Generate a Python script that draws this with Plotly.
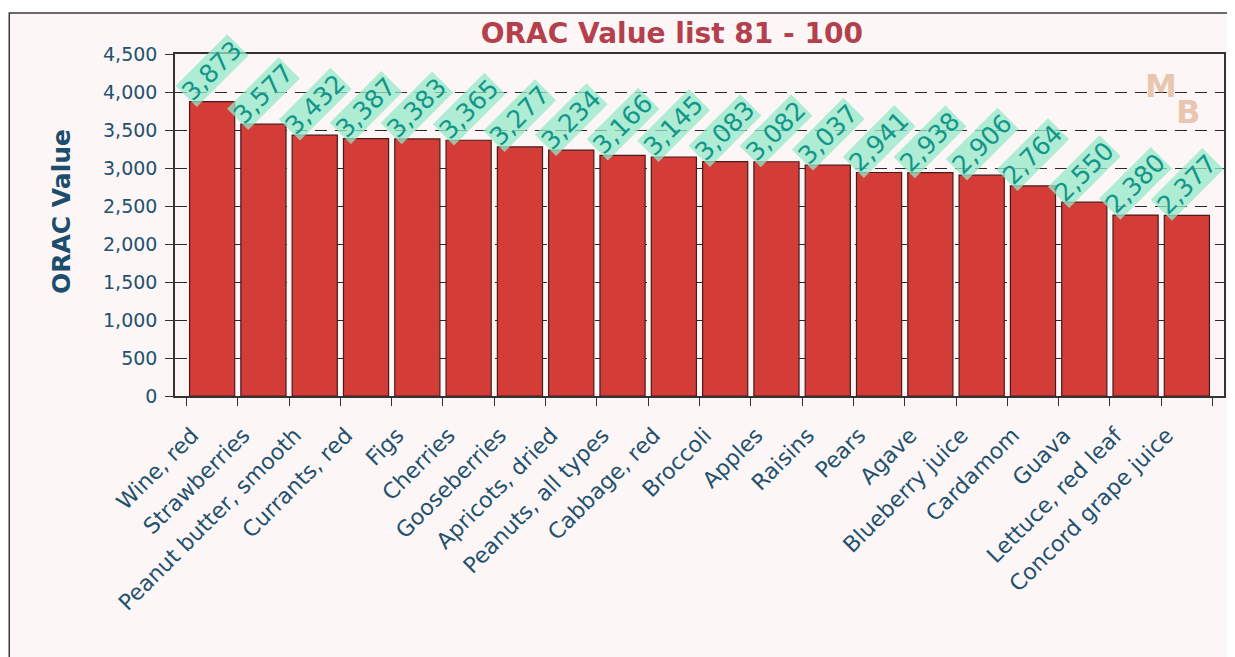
import plotly.graph_objects as go

foods = ["Wine, red", "Strawberries", "Peanut butter, smooth", "Currants, red", "Figs",
         "Cherries", "Gooseberries", "Apricots, dried", "Peanuts, all types", "Cabbage, red",
         "Broccoli", "Apples", "Raisins", "Pears", "Agave", "Blueberry juice", "Cardamom",
         "Guava", "Lettuce, red leaf", "Concord grape juice"]
orac = [3873, 3577, 3432, 3387, 3383, 3365, 3277, 3234, 3166, 3145,
        3083, 3082, 3037, 2941, 2938, 2906, 2764, 2550, 2380, 2377]
y_ticks = [0, 500, 1000, 1500, 2000, 2500, 3000, 3500, 4000, 4500]

FONT = "DejaVu Sans"
AXIS_BLUE = "#23506e"
LOGO = "rgba(215,150,105,0.5)"

fig = go.Figure()
fig.add_trace(go.Bar(
    x=foods, y=orac,
    marker=dict(color="#d43c38", line=dict(color="#4a1a18", width=1.2)),
    hoverinfo="x+y",
))

# faint logo in the top right corner
fig.add_annotation(xref="paper", yref="paper", x=0.94, y=0.905, text="<b>M</b>",
                   xanchor="center", yanchor="middle", showarrow=False,
                   font=dict(family=FONT, size=32, color=LOGO))
fig.add_annotation(xref="paper", yref="paper", x=0.966, y=0.83, text="<b>B</b>",
                   xanchor="center", yanchor="middle", showarrow=False,
                   font=dict(family=FONT, size=32, color=LOGO))

# rotated value labels on a translucent green box
for name, val in zip(foods, orac):
    fig.add_annotation(
        x=name, y=val, text=f"{val:,}", textangle=-45,
        showarrow=False, xanchor="center", yanchor="bottom", yshift=-6,
        font=dict(family=FONT, size=25, color="#13968a"),
        bgcolor="rgba(150,232,200,0.75)", borderpad=0,
    )

# axis title on the left
fig.add_annotation(
    xref="paper", yref="paper", x=-0.108, y=0.54, text="<b>ORAC Value</b>",
    textangle=-90, showarrow=False, xanchor="center", yanchor="middle",
    font=dict(family=FONT, size=25, color="#1d4d6d"),
)

# outer frame of the chart
fig.add_shape(type="rect", xref="paper", yref="paper",
              x0=-0.158, x1=1.0038, y0=-0.8, y1=1.12,
              line=dict(color="#3a3a3a", width=1.5), fillcolor="#fcf7f6", layer="below")

fig.update_layout(
    width=1227, height=649,
    margin=dict(l=167, r=11, t=46, b=261),
    paper_bgcolor="white",
    plot_bgcolor="#fdd89e",
    bargap=0.12,
    showlegend=False,
    title=dict(text="<b>ORAC Value list 81 - 100</b>", x=0.541, xanchor="center",
               y=0.961, yanchor="middle",
               font=dict(family=FONT, size=28, color="#b3404c")),
    font=dict(family=FONT, color=AXIS_BLUE),
)
fig.update_xaxes(
    automargin=False,
    tickangle=-45, tickson="boundaries", ticks="outside", ticklen=8,
    tickcolor="#333", tickfont=dict(size=22, color=AXIS_BLUE),
    ticklabelstandoff=16, ticklabelshift=-20,
    showline=True, linecolor="#333", linewidth=1.5, mirror=True,
)
fig.update_yaxes(
    automargin=False,
    range=[0, 4500], tickvals=y_ticks, tickformat=",d", ticks="outside", ticklen=8,
    tickcolor="#333", tickfont=dict(size=19, color=AXIS_BLUE), ticklabelstandoff=4,
    showgrid=True, gridcolor="#2a2a2a", gridwidth=1, griddash="12px,8px",
    showline=True, linecolor="#333", linewidth=1.5, mirror=True, zeroline=False,
)

fig.write_html("out.html")
